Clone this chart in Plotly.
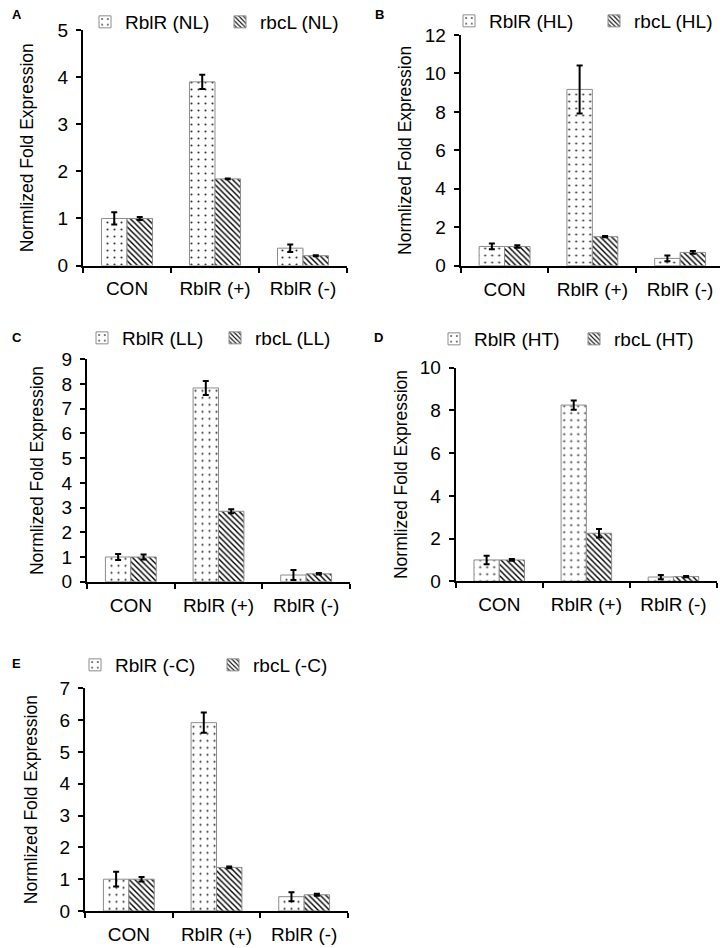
import plotly.graph_objects as go

# the page places the figure 8px from the window's top-left corner
OFF = 8
W, H = 728 - OFF, 948 - OFF

categories = ["CON", "RblR (+)", "RblR (-)"]
panel_labels = ["A", "B", "C", "D", "E"]
conditions = ["NL", "HL", "LL", "HT", "-C"]

rblr_A = [1.00, 3.90, 0.37]
rblr_A_err = [0.13, 0.15, 0.08]
rbcl_A = [1.00, 1.84, 0.21]
rbcl_A_err = [0.03, 0.01, 0.01]

rblr_B = [1.00, 9.17, 0.38]
rblr_B_err = [0.15, 1.25, 0.15]
rbcl_B = [1.00, 1.51, 0.69]
rbcl_B_err = [0.06, 0.03, 0.07]

rblr_C = [1.00, 7.84, 0.27]
rblr_C_err = [0.12, 0.28, 0.20]
rbcl_C = [1.00, 2.85, 0.32]
rbcl_C_err = [0.10, 0.08, 0.03]

rblr_D = [1.00, 8.25, 0.20]
rblr_D_err = [0.20, 0.22, 0.10]
rbcl_D = [1.00, 2.25, 0.22]
rbcl_D_err = [0.04, 0.20, 0.03]

rblr_E = [1.00, 5.92, 0.45]
rblr_E_err = [0.23, 0.32, 0.14]
rbcl_E = [1.00, 1.37, 0.51]
rbcl_E_err = [0.07, 0.03, 0.03]

y_max = [5, 12, 9, 10, 7]
y_dtick = [1, 2, 1, 2, 1]

rblr_all = [rblr_A, rblr_B, rblr_C, rblr_D, rblr_E]
rblr_err_all = [rblr_A_err, rblr_B_err, rblr_C_err, rblr_D_err, rblr_E_err]
rbcl_all = [rbcl_A, rbcl_B, rbcl_C, rbcl_D, rbcl_E]
rbcl_err_all = [rbcl_A_err, rbcl_B_err, rbcl_C_err, rbcl_D_err, rbcl_E_err]

# layout geometry in window pixels: (x_left, x_right, y_top, y_zero)
geom = [
    (83, 347, 30, 265.6),
    (460.7, 724, 35, 265.7),
    (87, 350, 359.3, 581.7),
    (455.7, 717, 367.7, 581.3),
    (85, 348, 688.3, 911),
]
title_standoff = [19, 9, 13, 8, 17]
# legend text start x and center y for (RblR, rbcL)
leg_pos = [
    ((125, 22), (260, 22)),
    ((489, 21), (634, 21)),
    ((122, 338), (255, 338)),
    ((474, 339), (614, 339)),
    ((115, 665), (253, 665)),
]
label_pos = [(10, 15), (373, 15), (10, 337), (372, 337), (10, 663)]

FONT = "Liberation Sans, Arial, sans-serif"


def px(v):
    return (v - OFF) / W


def py(v):
    return 1 - (v - OFF) / H


fig = go.Figure()
layout = dict(
    width=W, height=H,
    margin=dict(l=0, r=0, t=0, b=0, autoexpand=False),
    paper_bgcolor="white", plot_bgcolor="white",
    font=dict(family=FONT, size=19, color="black"),
    barmode="group", bargap=0.42, bargroupgap=0.0,
    showlegend=True,
)
annotations = []

for i in range(5):
    s = "" if i == 0 else str(i + 1)
    xa, ya = "x" + s, "y" + s
    l1 = "legend" if i == 0 else "legend" + str(2 * i + 1)
    l2 = "legend" + str(2 * i + 2)
    fig.add_trace(go.Bar(
        x=categories, y=rblr_all[i], name="RblR (" + conditions[i] + ")",
        xaxis=xa, yaxis=ya, legend=l1,
        marker=dict(color="white", line=dict(color="#8c8c8c", width=1),
                    pattern=dict(shape=".", fgcolor="#333333", bgcolor="white",
                                 size=7, solidity=0.07, fillmode="replace")),
        error_y=dict(type="data", array=rblr_err_all[i], color="black",
                     thickness=2, width=3),
    ))
    fig.add_trace(go.Bar(
        x=categories, y=rbcl_all[i], name="rbcL (" + conditions[i] + ")",
        xaxis=xa, yaxis=ya, legend=l2,
        marker=dict(color="white", line=dict(color="#8c8c8c", width=1),
                    pattern=dict(shape="\\", fgcolor="black", bgcolor="white",
                                 size=4, solidity=0.35, fillmode="replace")),
        error_y=dict(type="data", array=rbcl_err_all[i], color="black",
                     thickness=2, width=3),
    ))
    xl, xr, yt, y0 = geom[i]
    layout["xaxis" + s] = dict(
        domain=[px(xl), px(xr)], anchor=ya, type="category",
        range=[-0.5, 2.5], showline=True, linecolor="black", linewidth=2,
        ticks="outside", tickson="boundaries", ticklen=5, tickwidth=1.5,
        tickcolor="black", showgrid=False, zeroline=False,
        tickfont=dict(size=19), ticklabelstandoff=5,
    )
    layout["yaxis" + s] = dict(
        domain=[py(y0), py(yt)], anchor=xa,
        range=[0, y_max[i]], dtick=y_dtick[i], tick0=0,
        showline=True, linecolor="black", linewidth=2,
        ticks="outside", ticklen=5, tickwidth=1.5, tickcolor="black",
        showgrid=False, zeroline=False, tickfont=dict(size=19),
        ticklabelstandoff=4,
        title=dict(text="Normlized Fold Expression", font=dict(size=17.5),
                   standoff=title_standoff[i]),
    )
    for k, lid in enumerate([l1, l2]):
        tx, ty = leg_pos[i][k]
        layout[lid] = dict(
            x=px(tx - 40), y=py(ty), xanchor="left", yanchor="middle",
            orientation="h", bgcolor="rgba(0,0,0,0)", borderwidth=0,
            font=dict(size=19), itemwidth=30, traceorder="normal",
        )
    lx, ly = label_pos[i]
    annotations.append(dict(
        text="<b>" + panel_labels[i] + "</b>", x=px(lx), y=py(ly),
        xref="paper", yref="paper", xanchor="left", yanchor="middle",
        showarrow=False, font=dict(size=13, color="black"),
    ))

layout["annotations"] = annotations
fig.update_layout(**layout)
fig.write_html("out.html")
